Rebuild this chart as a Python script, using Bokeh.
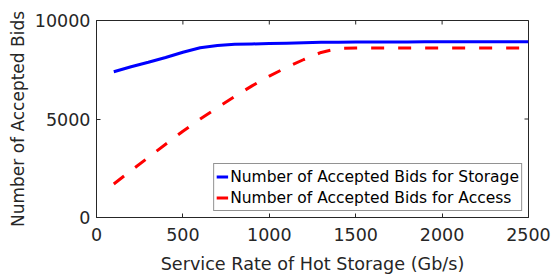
import math
from bokeh.plotting import figure
from bokeh.models import Range1d, FixedTicker, Legend, LegendItem
from bokeh.embed import file_html
from bokeh.resources import INLINE

# ---- data ----
service_rate = [100, 200, 300, 400, 500, 600, 700, 800, 900, 1000, 1100, 1200, 1300,
                1400, 1500, 1600, 1700, 1800, 1900, 2000, 2100, 2200, 2300, 2400, 2500]
bids_storage = [7400, 7650, 7880, 8120, 8390, 8620, 8730, 8790, 8810, 8830, 8850, 8870, 8890,
                8900, 8905, 8910, 8912, 8914, 8916, 8918, 8920, 8920, 8920, 8920, 8920]
bids_access = [1700, 2380, 3050, 3720, 4380, 5000, 5580, 6150, 6680, 7180, 7620, 8020, 8380,
               8580, 8600, 8600, 8600, 8600, 8600, 8600, 8600, 8600, 8600, 8600, 8600]
x_ticks = [0, 500, 1000, 1500, 2000, 2500]
y_ticks = [0, 5000, 10000]
x_label = "Service Rate of Hot Storage (Gb/s)"
y_label = "Number of Accepted Bids"
legend_labels = ["Number of Accepted Bids for Storage", "Number of Accepted Bids for Access"]

FONT = "DejaVu Sans"
TXT = "#262626"
X_MIN, X_MAX = 0, 2500
Y_MIN, Y_MAX = 0, 10000

p = figure(width=558, height=276, output_backend="svg", toolbar_location=None,
           x_range=Range1d(X_MIN, X_MAX), y_range=Range1d(Y_MIN, Y_MAX),
           min_border_left=96, min_border_right=30, min_border_top=20, min_border_bottom=57)
p.background_fill_color = "white"
p.border_fill_color = "white"
p.outline_line_color = TXT
p.outline_line_width = 1
p.xgrid.visible = False
p.ygrid.visible = False

r1 = p.line(service_rate, bids_storage, line_color="#0000FF", line_width=3)
r2 = p.line(service_rate, bids_access, line_color="#FF0000", line_width=3, line_dash="13 14")

# inward ticks on the top and right edges of the box
p.scatter(x_ticks, [Y_MAX] * len(x_ticks), marker="dash", size=8, angle=math.pi / 2,
          line_color=TXT, line_width=1)
p.scatter([X_MAX] * len(y_ticks), y_ticks, marker="dash", size=8,
          line_color=TXT, line_width=1)

for ax in (p.xaxis[0], p.yaxis[0]):
    ax.axis_line_color = TXT
    ax.major_tick_line_color = TXT
    ax.major_tick_in = 4
    ax.major_tick_out = 0
    ax.minor_tick_line_color = None
    ax.major_label_text_font = FONT
    ax.major_label_text_color = TXT
    ax.major_label_text_font_size = "17.5px"
    ax.axis_label_text_font = FONT
    ax.axis_label_text_color = TXT
    ax.axis_label_text_font_style = "normal"

p.xaxis.axis_label_text_font_size = "17.6px"
p.yaxis.axis_label_text_font_size = "17px"
p.xaxis.ticker = FixedTicker(ticks=x_ticks)
p.yaxis.ticker = FixedTicker(ticks=y_ticks)
p.xaxis.major_label_standoff = 10
p.yaxis.major_label_standoff = 6
p.xaxis.axis_label = x_label
p.yaxis.axis_label = y_label
p.xaxis.axis_label_standoff = 10
p.yaxis.axis_label_standoff = 4

legend = Legend(items=[LegendItem(label=legend_labels[0], renderers=[r1]),
                       LegendItem(label=legend_labels[1], renderers=[r2])],
                location="bottom_right")
legend.label_text_font = FONT
legend.label_text_font_size = "15.5px"
legend.label_text_color = "black"
legend.border_line_color = TXT
legend.border_line_width = 1
legend.background_fill_color = "white"
legend.background_fill_alpha = 1
legend.margin = 6
legend.padding = 2
legend.spacing = 0
legend.glyph_width = 12
legend.glyph_height = 21
legend.label_height = 21
legend.label_standoff = 2
p.add_layout(legend, "center")

open("out.html", "w").write(file_html(p, INLINE))
